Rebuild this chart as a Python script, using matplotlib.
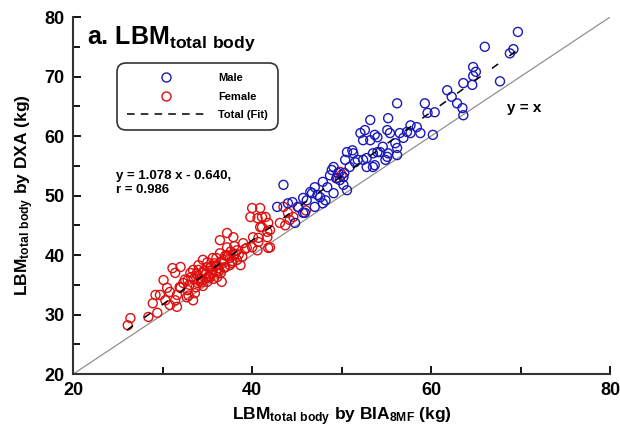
import numpy as np
import matplotlib
matplotlib.use("Agg")
import matplotlib.pyplot as plt
from matplotlib.lines import Line2D

plt.rcParams['font.family'] = ['Liberation Sans', 'DejaVu Sans']
plt.rcParams['font.weight'] = 'bold'
plt.rcParams['mathtext.fontset'] = 'custom'
plt.rcParams['mathtext.rm'] = 'Liberation Sans:bold'
plt.rcParams['mathtext.default'] = 'rm'

# LBM (kg): BIA-8MF on x, DXA on y
male_bia = [69.7, 66.0, 69.2, 68.8, 64.7, 65.0, 64.7, 67.7, 63.6, 64.6,
            61.8, 62.3, 62.9, 63.5, 63.6, 56.2, 59.3, 60.4, 59.6, 60.2,
            53.2, 55.2, 57.7, 58.8, 52.6, 54.0, 55.1, 56.5, 57.3, 52.4,
            54.6, 56.0, 50.6, 51.3, 51.8, 52.8, 53.5, 54.3, 55.2, 56.2,
            54.9, 53.7, 52.8, 50.4, 50.9, 49.1, 49.6, 50.2, 48.7, 47.9,
            47.0, 46.7, 47.6, 48.2, 46.1, 45.7, 47.3, 47.9, 46.5, 48.4,
            49.1, 45.7, 47.0, 45.9, 44.5, 50.2, 50.6, 51.2, 52.1, 53.2,
            54.0, 55.1, 56.2, 56.9, 57.7, 58.4, 53.7, 55.4, 52.4, 53.5,
            51.5, 43.5, 42.8, 44.0, 45.1, 44.8, 49.8, 50.3, 49.4, 48.9]
male_dxa = [77.5, 75.0, 74.6, 73.9, 71.6, 70.8, 70.1, 69.2, 68.9, 68.6,
            67.7, 66.6, 65.5, 64.7, 63.5, 65.5, 65.5, 64.0, 63.9, 60.2,
            62.7, 63.0, 61.8, 60.5, 61.0, 59.8, 61.0, 60.5, 60.7, 59.3,
            58.2, 58.8, 57.3, 57.1, 56.0, 56.3, 57.1, 57.3, 57.1, 56.8,
            56.0, 55.1, 54.8, 56.0, 54.8, 54.8, 53.8, 53.1, 53.4, 52.3,
            51.4, 50.4, 49.7, 49.2, 49.2, 47.1, 50.1, 48.7, 50.6, 51.4,
            50.4, 49.6, 48.1, 47.1, 48.9, 51.8, 50.9, 57.6, 60.5, 59.3,
            57.3, 56.5, 58.0, 59.7, 60.5, 61.5, 60.2, 60.5, 56.0, 54.8,
            55.6, 51.8, 48.1, 48.7, 48.1, 45.4, 52.6, 53.8, 52.9, 54.3]

female_bia = [40.0, 40.9, 39.8, 40.6, 41.5, 41.1, 42.0, 41.7, 40.7, 40.0,
              40.6, 41.8, 43.5, 44.0, 44.2, 43.7, 44.6, 43.1, 41.1, 41.8,
              40.9, 41.7, 40.1, 40.7, 42.0, 39.4, 37.2, 37.9, 36.4, 37.2,
              38.3, 38.9, 37.9, 37.2, 36.4, 35.6, 35.0, 34.5, 34.0, 33.4,
              33.1, 33.9, 34.5, 35.3, 36.1, 36.8, 37.5, 38.7, 36.6, 35.3,
              34.5, 33.9, 32.8, 32.3, 32.0, 32.8, 33.6, 31.6, 30.8, 30.1,
              30.5, 29.7, 29.2, 31.4, 30.8, 31.6, 30.3, 28.9, 28.4, 29.4,
              26.4, 26.1, 35.0, 35.6, 36.1, 32.7, 33.4, 32.0, 31.4, 31.1,
              34.2, 34.8, 35.5, 36.2, 36.8, 37.5, 35.8, 34.0, 33.5, 35.0,
              36.5, 37.8, 38.3, 33.0, 34.5, 35.7, 37.0, 36.0, 38.0, 39.0,
              49.5, 50.0, 49.8, 45.2, 46.0,
              33.8, 34.6, 35.2, 35.9, 36.6, 37.3, 38.1, 34.1, 34.9, 35.4,
              36.3, 37.0, 37.7, 33.2, 32.5, 33.7, 34.3, 35.1, 36.0, 36.9,
              37.6, 38.5, 39.2, 31.9, 32.9]
female_dxa = [47.9, 47.9, 46.4, 46.2, 46.4, 44.7, 44.2, 43.0, 42.9, 41.3,
              40.8, 41.2, 48.1, 47.1, 45.9, 45.0, 46.4, 45.4, 46.4, 45.4,
              44.7, 43.9, 43.0, 42.2, 41.3, 41.2, 43.7, 43.0, 42.5, 41.3,
              40.8, 39.7, 40.0, 40.0, 40.3, 39.5, 38.8, 39.2, 38.3, 37.5,
              37.0, 36.6, 37.1, 37.8, 38.3, 38.7, 38.3, 38.3, 35.5, 36.3,
              35.8, 35.3, 35.8, 35.3, 34.5, 34.1, 33.6, 33.3, 33.8, 35.8,
              34.5, 33.3, 33.3, 32.4, 31.6, 31.3, 32.4, 31.9, 29.6, 30.3,
              29.4, 28.2, 38.0, 37.5, 36.3, 32.9, 32.4, 38.0, 37.0, 37.8,
              36.0, 36.8, 37.0, 37.8, 39.2, 39.5, 38.6, 37.5, 36.0, 35.5,
              37.0, 39.0, 39.2, 35.0, 34.8, 36.0, 38.0, 39.5, 41.5, 42.0,
              53.0, 53.5, 54.0, 48.0, 47.5,
              36.9, 37.4, 36.5, 38.2, 38.9, 39.8, 40.2, 35.6, 36.1, 38.1,
              37.4, 39.9, 38.7, 36.3, 35.9, 34.6, 35.4, 36.4, 37.1, 37.9,
              40.6, 40.1, 41.0, 34.6, 33.2]

slope, intercept = 1.078, -0.640

fig = plt.figure(figsize=(6.2, 4.37), dpi=100)
ax = fig.add_axes([0.118, 0.144, 0.866, 0.817])

# identity line
ax.plot([20, 80], [20, 80], color='#909090', lw=0.9, zorder=1)

ax.scatter(female_bia, female_dxa, s=42, facecolors='none',
           edgecolors='#dd1010', linewidths=1.0, zorder=2)
ax.scatter(male_bia, male_dxa, s=42, facecolors='none',
           edgecolors='#1a1ab8', linewidths=1.0, zorder=3)

# regression on all subjects
xfit = np.array([26.0, 70.0])
ax.plot(xfit, slope * xfit + intercept, color='black', lw=1.1,
        dashes=(5, 9), zorder=4)

ax.set_xlim(20, 80)
ax.set_ylim(20, 80)
ax.set_xticks([20, 40, 60, 80])
ax.set_xticks([30, 50, 70], minor=True)
ax.set_yticks([20, 30, 40, 50, 60, 70, 80])
ax.set_yticks(np.arange(25, 80, 10), minor=True)
ax.tick_params(which='major', direction='in', length=6, width=1.3,
               labelsize=13, pad=6)
ax.tick_params(which='minor', direction='in', length=5, width=1.3)
for side in ['top', 'right']:
    ax.spines[side].set_visible(False)
for side in ['left', 'bottom']:
    ax.spines[side].set_linewidth(1.5)
    ax.spines[side].set_color('#333333')

ax.set_xlabel(r'LBM$_{total\ body}$ by BIA$_{8MF}$ (kg)', fontsize=12.5,
              fontweight='bold', labelpad=4)
ax.set_ylabel(r'LBM$_{total\ body}$ by DXA (kg)', fontsize=12.5,
              fontweight='bold', labelpad=6)

ax.text(21.5, 75.5, r'a. LBM$_{total\ body}$', fontsize=18, fontweight='bold')
ax.text(24.8, 50.4, 'y = 1.078 x - 0.640,\nr = 0.986', fontsize=9.5,
        fontweight='bold', linespacing=1.25)
ax.text(68.5, 64.0, 'y = x', fontsize=11, fontweight='bold')

handles = [
    Line2D([], [], ls='none', marker='o', mfc='none', mec='#1a1ab8',
           ms=6.5, mew=1.0),
    Line2D([], [], ls='none', marker='o', mfc='none', mec='#dd1010',
           ms=6.5, mew=1.0),
    Line2D([], [], color='black', lw=1.1, dashes=(5, 4)),
]
leg = ax.legend(handles, ['Male', 'Female', 'Total (Fit)'],
                loc='upper left', bbox_to_anchor=(0.075, 0.88),
                handlelength=7.0, handletextpad=1.2,
                borderpad=0.7, labelspacing=0.75, fancybox=True,
                frameon=True, prop={'weight': 'bold', 'size': 8})
leg.get_frame().set_edgecolor('black')
leg.get_frame().set_linewidth(1.2)
leg.get_frame().set_boxstyle('round,pad=0.2,rounding_size=0.8')

fig.savefig('out.png', dpi=100)
